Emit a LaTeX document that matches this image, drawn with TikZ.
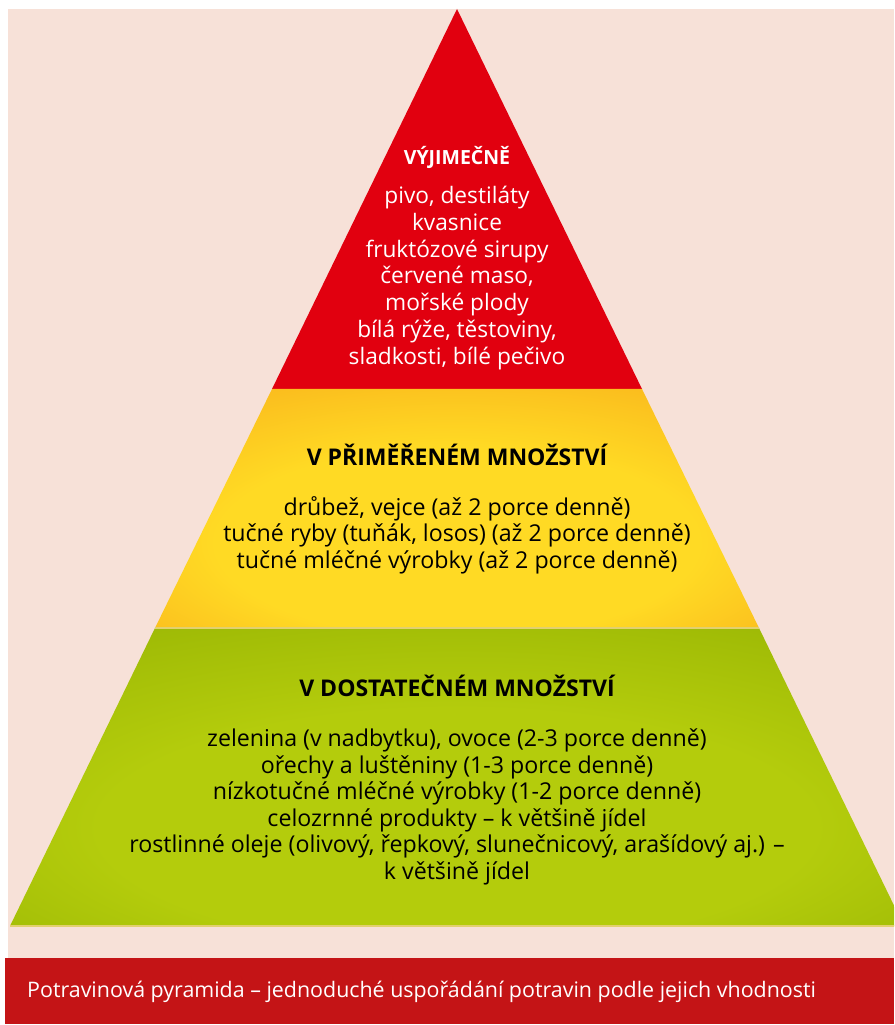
\documentclass[tikz,border=0pt]{standalone}
\usepackage{fontspec}
\setmainfont{Open Sans}
\usepackage{xcolor}
\usetikzlibrary{positioning, calc}

\definecolor{pagepink}{RGB}{247,225,216}
\definecolor{topred}{RGB}{225,0,15}
\definecolor{midcore}{RGB}{255,218,36}
\definecolor{midrim}{RGB}{247,166,25}
\definecolor{basecore}{RGB}{180,204,12}
\definecolor{baserim}{RGB}{141,172,0}
\definecolor{barred}{RGB}{196,20,22}
\definecolor{seamline}{RGB}{226,208,110}

\pgfdeclareradialshading{midglow}{\pgfpoint{0bp}{-10bp}}{%
  color(0bp)=(midcore); color(20bp)=(midcore); color(45bp)=(midrim); color(70bp)=(midrim)}
\pgfdeclareradialshading{baseglow}{\pgfpoint{0bp}{-12bp}}{%
  color(0bp)=(basecore); color(20bp)=(basecore); color(48bp)=(baserim); color(70bp)=(baserim)}

\tikzset{
  tierhead/.style={font=\bfseries\fontsize{23}{27}\selectfont, align=center},
  tierbody/.style={font=\fontsize{23.2}{26.6}\selectfont, align=center},
  tiphead/.style={font=\bfseries\fontsize{19.5}{24}\selectfont, align=center, white},
  tipbody/.style={font=\fontsize{22.7}{26.8}\selectfont, align=center, white},
}

\begin{document}
\begin{tikzpicture}[x=1pt, y=1pt]

  \useasboundingbox (0,0) rectangle (894,1025);
  \clip (0,0) rectangle (894,1025);

  % Page background and caption bar
  \fill[white] (0,0) rectangle (894,1025);
  \fill[pagepink] (8,67) rectangle (894,1016);
  \fill[barred] (5,1) rectangle (894,67);

  % Key points of the pyramid
  \coordinate (apex) at (457,1016);
  \coordinate (topL) at (272,636);
  \coordinate (topR) at (642,636);
  \coordinate (midL) at (155,397);
  \coordinate (midR) at (759,397);
  \coordinate (baseL) at (10,99);
  \coordinate (baseR) at (904,99);

  % Tiers, from the tip down
  \fill[topred] (apex) -- (topR) -- (topL) -- cycle;
  \shade[shading=midglow] (topL) -- (topR) -- (midR) -- (midL) -- cycle;
  \shade[shading=baseglow] (midL) -- (midR) -- (baseR) -- (baseL) -- cycle;

  % Thin seams between the tiers
  \draw[seamline, line width=1.6pt] (midL) -- (midR);
  \draw[seamline, line width=1.2pt] (baseL) -- (baseR);

  % Top tier texts
  \node[tiphead] (topHead) at (457,868) {VÝJIMEČNĚ};
  \node[tipbody] (topBody) at (457,747)
    {pivo, destiláty\\ kvasnice\\ fruktózové sirupy\\ červené maso,\\
     mořské plody\\ bílá rýže, těstoviny,\\ sladkosti, bílé pečivo};

  % Middle tier texts
  \node[tierhead] (midHead) at (457,570) {V PŘIMĚŘENÉM MNOŽSTVÍ};
  \node[tierbody] (midBody) at (457,490)
    {drůbež, vejce (až 2 porce denně)\\ tučné ryby (tuňák, losos) (až 2 porce denně)\\
     tučné mléčné výrobky (až 2 porce denně)};

  % Base tier texts
  \node[tierhead] (baseHead) at (457,339) {V DOSTATEČNÉM MNOŽSTVÍ};
  \node[tierbody] (baseBody) at (457,218)
    {zelenina (v nadbytku), ovoce (2-3 porce denně)\\ ořechy a luštěniny (1-3 porce denně)\\
     nízkotučné mléčné výrobky (1-2 porce denně)\\ celozrnné produkty – k většině jídel\\
     rostlinné oleje (olivový, řepkový, slunečnicový, arašídový aj.) –\\ k většině jídel};

  % Caption in the bar
  \node[white, anchor=west, font=\fontsize{21.4}{25}\selectfont, inner sep=0pt]
    (caption) at (27,33) {Potravinová pyramida – jednoduché uspořádání potravin podle jejich vhodnosti};

\end{tikzpicture}
\end{document}
